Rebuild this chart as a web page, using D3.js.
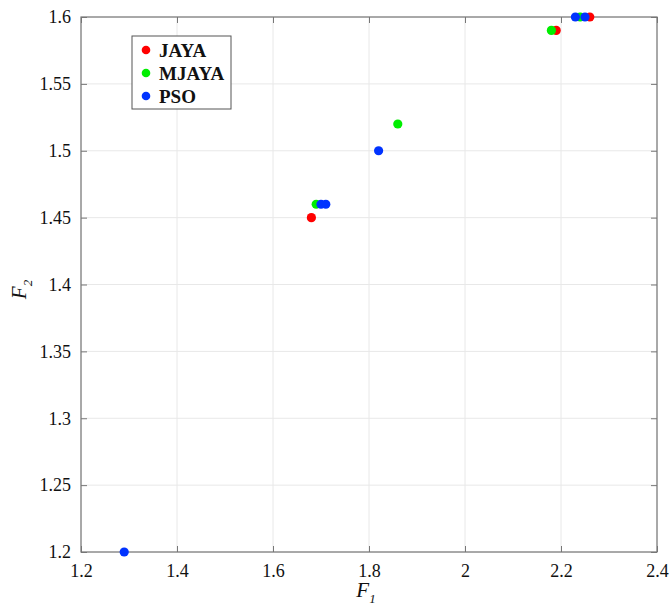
<!DOCTYPE html>
<html>
<head>
<meta charset="utf-8">
<script src="https://cdn.jsdelivr.net/npm/d3@7"></script>
<style>
  body { margin: 0; background: #fff; }
  svg text { font-family: "Liberation Serif", "DejaVu Serif", serif; fill: #111; }
</style>
</head>
<body>
<div id="chart"></div>
<script>
// series values
var jayaF1 = [2.19, 2.26, 1.68];
var jayaF2 = [1.59, 1.60, 1.45];
var mjayaF1 = [2.18, 2.24, 1.86, 1.69];
var mjayaF2 = [1.59, 1.60, 1.52, 1.46];
var psoF1 = [2.23, 2.25, 1.82, 1.70, 1.71, 1.29];
var psoF2 = [1.60, 1.60, 1.50, 1.46, 1.46, 1.20];

var seriesNames = ["JAYA", "MJAYA", "PSO"];
var seriesColors = ["#ff0000", "#00ee00", "#0033ff"];
var xTicks = [1.2, 1.4, 1.6, 1.8, 2, 2.2, 2.4];
var yTicks = [1.2, 1.25, 1.3, 1.35, 1.4, 1.45, 1.5, 1.55, 1.6];

window.onload = () => {
  var margin = { top: 17, right: 13, bottom: 54, left: 81 },
    width = 670 - margin.left - margin.right,
    height = 606 - margin.top - margin.bottom;

  var x = d3.scaleLinear().domain([1.2, 2.4]).range([0, width]);
  var y = d3.scaleLinear().domain([1.2, 1.6]).range([height, 0]);

  var svg = d3.select("#chart").append("svg")
    .attr("width", 670)
    .attr("height", 606)
    .append("g")
    .attr("transform", "translate(" + margin.left + "," + margin.top + ")");

  // grid
  svg.append("g").selectAll("line").data(xTicks).join("line")
    .attr("x1", d => x(d)).attr("x2", d => x(d))
    .attr("y1", 0).attr("y2", height)
    .attr("stroke", "#e8e8e8");
  svg.append("g").selectAll("line").data(yTicks).join("line")
    .attr("y1", d => y(d)).attr("y2", d => y(d))
    .attr("x1", 0).attr("x2", width)
    .attr("stroke", "#e8e8e8");

  var axisColor = "#777";
  function styleAxis(g) {
    g.attr("font-family", null).attr("font-size", null);
    g.select(".domain").remove();
    g.selectAll(".tick line").attr("stroke", axisColor);
    g.selectAll("text")
      .style("font-family", "'Liberation Serif', 'DejaVu Serif', serif")
      .style("font-size", "18px").attr("fill", "#111");
  }

  svg.append("g")
    .attr("transform", "translate(0," + height + ")")
    .call(d3.axisBottom(x).tickValues(xTicks).tickSize(-6).tickPadding(12)
      .tickFormat(d3.format("")))
    .call(styleAxis);
  svg.append("g")
    .call(d3.axisTop(x).tickValues(xTicks).tickSize(-6).tickFormat(""))
    .call(styleAxis);
  svg.append("g")
    .call(d3.axisLeft(y).tickValues(yTicks).tickSize(-6).tickPadding(10)
      .tickFormat(d3.format("")))
    .call(styleAxis);
  svg.append("g")
    .attr("transform", "translate(" + width + ",0)")
    .call(d3.axisRight(y).tickValues(yTicks).tickSize(-6).tickFormat(""))
    .call(styleAxis);

  svg.append("rect")
    .attr("width", width).attr("height", height)
    .attr("fill", "none").attr("stroke", axisColor).attr("stroke-width", 1.2);

  // points
  var allSeries = [
    { name: "JAYA", xs: jayaF1, ys: jayaF2 },
    { name: "MJAYA", xs: mjayaF1, ys: mjayaF2 },
    { name: "PSO", xs: psoF1, ys: psoF2 }
  ];
  allSeries.forEach((s, i) => {
    svg.append("g").selectAll("circle").data(s.xs).join("circle")
      .attr("cx", d => x(d))
      .attr("cy", (d, j) => y(s.ys[j]))
      .attr("r", 4.6)
      .attr("fill", seriesColors[i]);
  });

  // axis labels
  var xl = svg.append("text")
    .attr("x", x(1.8) - 3).attr("y", height + 45)
    .attr("text-anchor", "middle")
    .style("font-size", "21px").style("font-style", "italic");
  xl.append("tspan").text("F");
  xl.append("tspan").attr("dy", 6).style("font-size", "13px").text("1");

  var yl = svg.append("text")
    .attr("transform", "translate(-55," + (y(1.4) + 5) + ") rotate(-90)")
    .attr("text-anchor", "middle")
    .style("font-size", "21px").style("font-style", "italic");
  yl.append("tspan").text("F");
  yl.append("tspan").attr("dy", 6).style("font-size", "13px").text("2");

  // legend
  var leg = svg.append("g").attr("transform", "translate(51,19)");
  leg.append("rect")
    .attr("width", 99).attr("height", 73)
    .attr("fill", "#fff").attr("stroke", "#555");
  seriesNames.forEach((n, i) => {
    var row = leg.append("g").attr("transform", "translate(0," + (14 + i * 23) + ")");
    row.append("circle").attr("cx", 14).attr("cy", 0).attr("r", 4.3)
      .attr("fill", seriesColors[i]);
    row.append("text").attr("x", 27).attr("y", 7)
      .style("font-size", "19px").style("font-weight", "bold").text(n);
  });
};
</script>
</body>
</html>
